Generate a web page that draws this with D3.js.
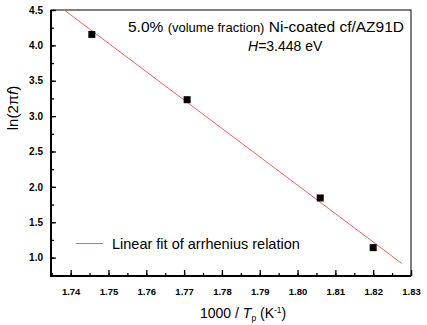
<!DOCTYPE html>
<html><head><meta charset="utf-8">
<script src="https://cdn.jsdelivr.net/npm/d3@7"></script>
<style>body{margin:0;background:#fff}svg{display:block}</style>
</head><body>
<script>
const xData = [1.7456, 1.7708, 1.8060, 1.8200];
const yData = [4.155, 3.232, 1.843, 1.141];
const fitX = [1.7383, 1.8276];
const fitY = [4.50, 0.915];
const xTicks = [1.74,1.75,1.76,1.77,1.78,1.79,1.80,1.81,1.82,1.83];
const yTicks = [1.0,1.5,2.0,2.5,3.0,3.5,4.0,4.5];
const titleMain = "5.0%";
const titleSmall = "(volume fraction)";
const titleRest = "Ni-coated cf/AZ91D";
const legendLabel = "Linear fit of arrhenius relation";

const W=427,H=325, L=51, R=411, T=10, B=276;
const FF="'Liberation Sans',Arial,sans-serif";
const svg=d3.select("body").append("svg").attr("width",W).attr("height",H)
  .style("font-family",FF);
const x=d3.scaleLinear().domain([1.7348,1.83]).range([L,R]);
const y=d3.scaleLinear().domain([0.74,4.5]).range([B,T]);

// frame
svg.append("rect").attr("x",L).attr("y",T).attr("width",R-L).attr("height",B-T)
  .attr("fill","none").attr("stroke","#000").attr("stroke-width",1);

// x axis
const xMinor=d3.range(1.735,1.8301,0.005).filter(v=>v>=1.7348);
const gx=svg.append("g").attr("transform",`translate(0,${B})`);
gx.call(d3.axisBottom(x).tickValues(xMinor).tickSize(-3).tickFormat(""));
gx.call(g=>g.select(".domain").remove());
const gx2=svg.append("g").attr("transform",`translate(0,${B})`)
  .call(d3.axisBottom(x).tickValues(xTicks).tickSize(-6).tickPadding(12).tickFormat(d3.format(".2f")));
gx2.selectAll("text").attr("font-size",9.5).attr("font-weight","bold").attr("font-family",FF);
gx2.select(".domain").remove();

// y axis
const yMinor=d3.range(0.75,4.501,0.25);
const gy=svg.append("g").attr("transform",`translate(${L},0)`)
  .call(d3.axisLeft(y).tickValues(yMinor).tickSize(-3).tickFormat(""));
gy.select(".domain").remove();
const gy2=svg.append("g").attr("transform",`translate(${L},0)`)
  .call(d3.axisLeft(y).tickValues(yTicks).tickSize(-5).tickPadding(8).tickFormat(d3.format(".1f")));
gy2.selectAll("text").attr("font-size",10).attr("font-weight","bold").attr("font-family",FF);
gy2.select(".domain").remove();
svg.selectAll("g line").attr("stroke","#000").attr("stroke-width",1.3);

// thick left & bottom axes
svg.append("line").attr("x1",L).attr("x2",L).attr("y1",T).attr("y2",B+1).attr("stroke","#000").attr("stroke-width",2);
svg.append("line").attr("x1",L).attr("x2",R).attr("y1",B).attr("y2",B).attr("stroke","#000").attr("stroke-width",2);

// fit line
svg.append("line").attr("x1",x(fitX[0])).attr("y1",y(fitY[0])).attr("x2",x(fitX[1])).attr("y2",y(fitY[1]))
  .attr("stroke","#f06262").attr("stroke-width",1);

// points
svg.selectAll("rect.pt").data(xData.map((d,i)=>[d,yData[i]])).enter().append("rect")
  .attr("class","pt").attr("x",d=>x(d[0])-3.5).attr("y",d=>y(d[1])-3.5)
  .attr("width",7).attr("height",7).attr("fill","#000");

// title text
const t1=svg.append("text").attr("x",128).attr("y",31.5).attr("font-size",15.5).attr("fill","#000");
t1.append("tspan").text(titleMain+" ");
t1.append("tspan").attr("font-size",13).text(titleSmall);
t1.append("tspan").text(" "+titleRest);
const t2=svg.append("text").attr("x",248).attr("y",51).attr("font-size",14);
t2.append("tspan").attr("font-style","italic").text("H");
t2.append("tspan").text("=3.448 eV");

// legend
svg.append("line").attr("x1",76).attr("x2",103).attr("y1",243.5).attr("y2",243.5)
  .attr("stroke","#f06262").attr("stroke-width",1);
svg.append("text").attr("x",112).attr("y",248.5).attr("font-size",14.5).text(legendLabel);

// y label
const yl=svg.append("text").attr("transform","translate(18,108) rotate(-90)")
  .attr("text-anchor","middle").attr("font-size",15);
yl.append("tspan").text("ln(2π");
yl.append("tspan").attr("font-style","italic").text("f");
yl.append("tspan").text(")");

// x label
const xl=svg.append("text").attr("x",200).attr("y",318).attr("font-size",14);
xl.append("tspan").text("1000 / ");
xl.append("tspan").attr("font-style","italic").text("T");
xl.append("tspan").attr("font-size",8.5).attr("dy",3).text("p");
xl.append("tspan").attr("dy",-3).text(" (K");
xl.append("tspan").attr("font-size",8.5).attr("dy",-5).text("-1");
xl.append("tspan").attr("dy",5).text(")");
</script>
</body></html>
